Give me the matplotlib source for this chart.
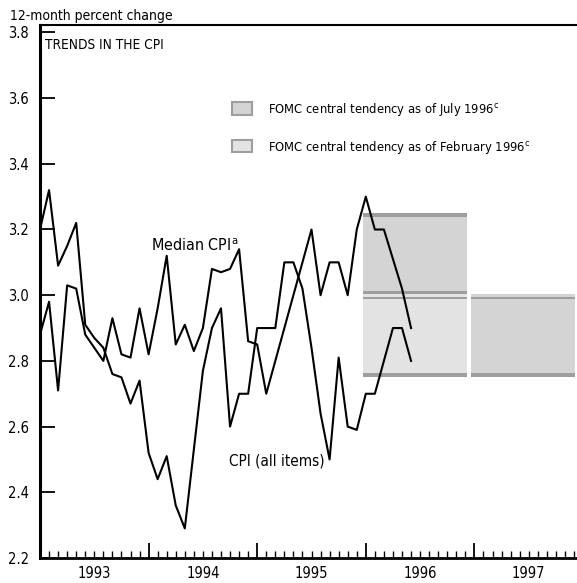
import matplotlib
matplotlib.use('Agg')
import matplotlib.pyplot as plt
from matplotlib import font_manager
from matplotlib.patches import Patch
from matplotlib.ticker import MultipleLocator
import pandas as pd

# monthly 12-month percent changes, Jan 1993 - Jun 1996
months = pd.period_range('1993-01', '1996-06', freq='M')
cpi_all = [3.20, 3.32, 3.09, 3.15, 3.22, 2.91, 2.87, 2.84, 2.76, 2.75, 2.67, 2.74,
           2.52, 2.44, 2.51, 2.36, 2.29, 2.53, 2.77, 2.90, 2.96, 2.60, 2.70, 2.70,
           2.90, 2.90, 2.90, 3.10, 3.10, 3.02, 2.84, 2.64, 2.50, 2.81, 2.60, 2.59,
           2.70, 2.70, 2.80, 2.90, 2.90, 2.80]
median_cpi = [2.88, 2.98, 2.71, 3.03, 3.02, 2.88, 2.84, 2.80, 2.93, 2.82, 2.81, 2.96,
              2.82, 2.96, 3.12, 2.85, 2.91, 2.83, 2.90, 3.08, 3.07, 3.08, 3.14, 2.86,
              2.85, 2.70, 2.80, 2.90, 3.00, 3.10, 3.20, 3.00, 3.10, 3.10, 3.00, 3.20,
              3.30, 3.20, 3.20, 3.11, 3.02, 2.90]

# FOMC central tendency ranges
band_years = [1996, 1996, 1997]
band_low = [3.00, 2.75, 2.75]
band_high = [3.25, 3.00, 3.00]
band_source = ['July 1996', 'February 1996', 'July 1996']

year_labels = ['1993', '1994', '1995', '1996', '1997']
y_ticks = [2.2, 2.4, 2.6, 2.8, 3.0, 3.2, 3.4, 3.6, 3.8]

# narrow face if there is one, otherwise Liberation Sans a bit smaller
cond = font_manager.findfont(font_manager.FontProperties(family='DejaVu Sans',
                                                         stretch='condensed'))
if 'Condensed' in cond:
    plt.rcParams['font.family'] = ['DejaVu Sans']
    plt.rcParams['font.stretch'] = 'condensed'
    k = 1.0
else:
    plt.rcParams['font.family'] = ['Liberation Sans', 'DejaVu Sans']
    k = 0.9

fill = {'July 1996': '#d4d4d4', 'February 1996': '#e3e3e3'}
stripe = '#9e9e9e'

fig = plt.figure(figsize=(5.77, 5.83), dpi=100)
ax = fig.add_axes([40 / 577, 25 / 583, 543 / 577, 533 / 583])

x = months.year + (months.month - 1) / 12

for yr, lo, hi, src in zip(band_years, band_low, band_high, band_source):
    x0, x1 = yr - 0.03, yr + 0.93
    ax.fill_between([x0, x1], lo, hi, color=fill[src], lw=0, zorder=1)
    ax.fill_between([x0, x1], hi - 0.013, hi, color=stripe, lw=0, zorder=1)
    ax.fill_between([x0, x1], lo, lo + 0.013, color=stripe, lw=0, zorder=1)
    if hi == 3.0 or lo == 3.0:
        # thin light gap between the two stacked ranges
        ax.fill_between([x0, x1], 2.996, 3.004, color=fill[src], lw=0, zorder=1)

ax.plot(x, median_cpi, color='black', lw=1.5, zorder=3)
ax.plot(x, cpi_all, color='black', lw=1.5, zorder=3)

ax.set_xlim(1993, 1998)
ax.set_ylim(2.2, 2.2 + 533 / 328.5)

ax.set_yticks(y_ticks)
ax.set_yticklabels(['%.1f' % v for v in y_ticks])
ax.tick_params(axis='y', direction='in', length=11, width=1.3, labelsize=10.5 * k, pad=8)
ax.set_xticks(range(1993, 1999))
ax.xaxis.set_minor_locator(MultipleLocator(1 / 12))
ax.tick_params(axis='x', which='major', direction='in', length=11, width=1.3,
               labelbottom=False)
ax.tick_params(axis='x', which='minor', direction='in', length=5, width=1.0)

ax.spines['left'].set_linewidth(2.2)
ax.spines['bottom'].set_linewidth(2.0)
ax.spines['top'].set_linewidth(1.5)
ax.spines['right'].set_linewidth(1.5)

tr = ax.get_xaxis_transform()
for i, lab in enumerate(year_labels):
    ax.text(1993 + i + 0.5, -0.037, lab, transform=tr, ha='center', va='baseline',
            fontsize=10.5 * k)

ax.text(0.009, 0.9625, 'TRENDS IN THE CPI', transform=ax.transAxes,
        ha='left', va='center', fontsize=9.8 * k)
fig.text(10 / 577, 1 - 16 / 583, '12-month percent change', ha='left', va='center',
         fontsize=10 * k)

ax.text(1994.02, 3.15, r'Median CPI$^{\mathregular{a}}$', ha='left', va='center',
        fontsize=11.5 * k)
ax.text(1994.74, 2.495, 'CPI (all items)', ha='left', va='center', fontsize=11 * k)

handles = [Patch(facecolor=fill['July 1996'], edgecolor=stripe, lw=1.5),
           Patch(facecolor=fill['February 1996'], edgecolor=stripe, lw=1.5)]
labels = [r'FOMC central tendency as of July 1996$^{\mathregular{c}}$',
          r'FOMC central tendency as of February 1996$^{\mathregular{c}}$']
ax.legend(handles, labels, loc='upper left', bbox_to_anchor=(232 / 577, 1 - 101 / 583),
          bbox_transform=fig.transFigure, frameon=False, fontsize=9.3 * k,
          borderpad=0, borderaxespad=0, handlelength=1.55, handleheight=1.1,
          handletextpad=1.25, labelspacing=1.6)

fig.savefig('out.png', dpi=100)
